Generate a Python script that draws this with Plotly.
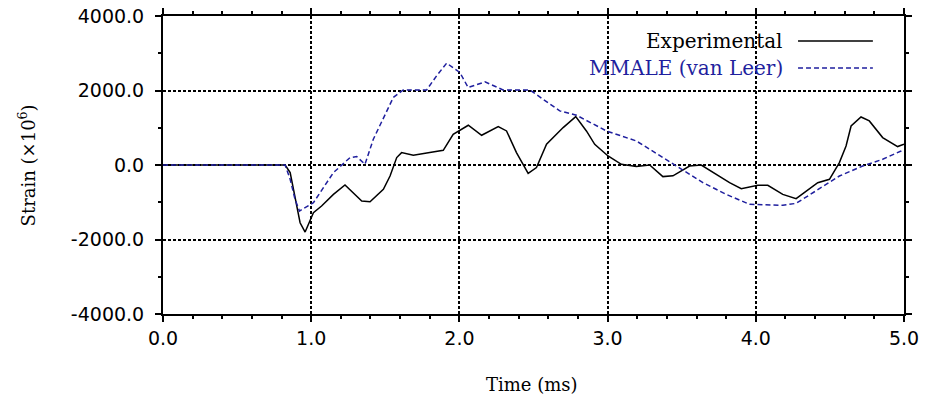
import plotly.graph_objects as go

exp_t = [0.0, 0.824, 0.858, 0.891, 0.925, 0.959, 1.015, 1.07, 1.15, 1.228, 1.285, 1.341, 1.397,
         1.487, 1.532, 1.577, 1.61, 1.689, 1.80, 1.891, 1.958, 2.06, 2.15, 2.262, 2.318, 2.385,
         2.464, 2.52, 2.588, 2.70, 2.785, 2.857, 2.913, 3.003, 3.093, 3.194, 3.284, 3.373, 3.441,
         3.553, 3.632, 3.733, 3.823, 3.902, 4.014, 4.081, 4.182, 4.272, 4.34, 4.418, 4.497, 4.564,
         4.609, 4.643, 4.71, 4.766, 4.856, 4.957, 5.0]
exp_v = [0, 0, -204, -833, -1550, -1800, -1280, -1100, -788, -537, -742, -968, -985,
         -653, -296, 200, 333, 260, 333, 395, 825, 1067, 798, 1032, 914, 333,
         -223, -70, 556, 1005, 1300, 914, 556, 242, 19, -43, 0, -312, -290,
         -27, 0, -250, -474, -636, -546, -546, -788, -904, -699, -474, -384, 65,
         511, 1048, 1290, 1183, 736, 495, 560]

mm_t = [0.0, 0.824, 0.858, 0.891, 0.921, 1.015, 1.15, 1.262, 1.307, 1.363, 1.419, 1.487, 1.554,
        1.621, 1.779, 1.846, 1.914, 2.003, 2.059, 2.172, 2.25, 2.295, 2.475, 2.565, 2.677, 2.79,
        2.992, 3.194, 3.351, 3.464, 3.643, 3.8, 3.958, 4.182, 4.272, 4.407, 4.564, 4.721, 4.856,
        4.98, 5.0]
mm_v = [0, 0, -384, -922, -1236, -1011, -204, 199, 226, 19, 691, 1274, 1812,
        2016, 2016, 2392, 2734, 2484, 2080, 2231, 2107, 2016, 2016, 1766, 1452, 1336,
        914, 645, 242, -27, -474, -788, -1056, -1083, -1030, -699, -296, -27, 153,
        376, 420]

x_ticks = [0, 1, 2, 3, 4, 5]
x_labels = ["0.0", "1.0", "2.0", "3.0", "4.0", "5.0"]
y_ticks = [-4000, -2000, 0, 2000, 4000]
y_labels = ["-4000.0", "-2000.0", "0.0", "2000.0", "4000.0"]
series_names = ["Experimental", "MMALE (van Leer)"]

BLUE = "#1f1f9e"
SERIF = "DejaVu Serif"

fig = go.Figure()
fig.add_trace(go.Scatter(x=exp_t, y=exp_v, mode="lines", name=series_names[0],
                         line=dict(color="black", width=1.5), showlegend=False))
fig.add_trace(go.Scatter(x=mm_t, y=mm_v, mode="lines", name=series_names[1],
                         line=dict(color=BLUE, width=1.5, dash="5px,3px"), showlegend=False))

axis_common = dict(
    showline=True, linecolor="black", linewidth=2, mirror="ticks",
    ticks="outside", ticklen=6, tickwidth=1.5, tickcolor="black",
    showgrid=True, gridcolor="black", gridwidth=1.5, griddash="3px,2px",
    zeroline=False, automargin=False,
    tickfont=dict(family="DejaVu Sans", size=19, color="black"),
)

fig.update_xaxes(range=[0, 5], tickvals=x_ticks, ticktext=x_labels,
                 minor=dict(dtick=0.2, ticks="outside", ticklen=3, tickwidth=1.5,
                            tickcolor="black", showgrid=False),
                 **axis_common)
fig.update_yaxes(range=[-4000, 4000], tickvals=y_ticks, ticktext=y_labels,
                 minor=dict(dtick=1000, ticks="outside", ticklen=3, tickwidth=1.5,
                            tickcolor="black", showgrid=False),
                 ticklabelstandoff=7,
                 **axis_common)

# axis titles
fig.add_annotation(text="Time (ms)", xref="paper", yref="paper", x=0.498, y=-0.235,
                   xanchor="center", yanchor="middle", showarrow=False,
                   font=dict(family=SERIF, size=18, color="black"))
fig.add_annotation(text="Strain (×10<sup>6</sup>)", xref="paper", yref="paper", x=-0.183, y=0.5,
                   xanchor="center", yanchor="middle", textangle=-90, showarrow=False,
                   font=dict(family=SERIF, size=18, color="black"))

# legend (text followed by line sample)
fig.add_annotation(text=series_names[0], xref="paper", yref="paper", x=0.839, y=0.916,
                   xanchor="right", yanchor="middle", showarrow=False,
                   font=dict(family=SERIF, size=20, color="black"))
fig.add_annotation(text=series_names[1], xref="paper", yref="paper", x=0.839, y=0.8255,
                   xanchor="right", yanchor="middle", showarrow=False,
                   font=dict(family=SERIF, size=20, color=BLUE))
fig.add_shape(type="line", xref="paper", yref="paper", x0=0.857, x1=0.958, y0=0.916, y1=0.916,
              line=dict(color="black", width=1.5))
fig.add_shape(type="line", xref="paper", yref="paper", x0=0.857, x1=0.958, y0=0.8255, y1=0.8255,
              line=dict(color=BLUE, width=1.5, dash="5px,3px"))

fig.update_layout(width=928, height=400, margin=dict(l=163, r=24, t=16, b=86),
                  plot_bgcolor="white", paper_bgcolor="white", showlegend=False)

fig.write_html("out.html", config={"displayModeBar": False},
               post_script="document.body.style.margin='0';document.body.style.overflow='hidden';")
